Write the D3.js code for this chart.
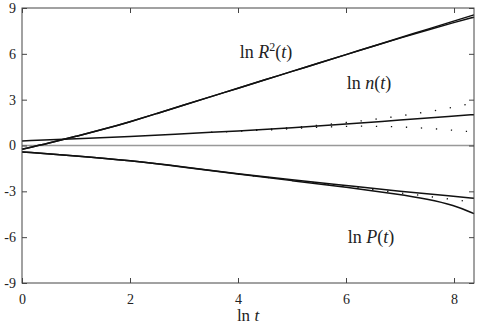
<!DOCTYPE html>
<html>
<head>
<meta charset="utf-8">
<script src="https://cdn.jsdelivr.net/npm/d3@7"></script>
<style>
  body { margin: 0; background: #fff; }
</style>
</head>
<body>
<script>
// values, [ln t, value]
var xTicks = [0, 2, 4, 6, 8];
var yTicks = [-9, -6, -3, 0, 3, 6, 9];

var lnR2a = [[0,-0.25],[0.5,0.15],[1,0.6],[1.5,1.05],[2,1.55],[2.5,2.1],[3,2.65],[3.5,3.2],[4,3.75],[4.5,4.3],[5,4.85],[5.5,5.4],[6,5.95],[6.5,6.5],[7,7.05],[7.5,7.6],[8,8.15],[8.37,8.55]];
var lnR2b = [[0,-0.25],[0.5,0.15],[1,0.6],[1.5,1.05],[2,1.55],[2.5,2.1],[3,2.65],[3.5,3.2],[4,3.75],[4.5,4.3],[5,4.85],[5.5,5.4],[6,5.95],[6.5,6.5],[7,7.03],[7.5,7.55],[8,8.05],[8.37,8.4]];

var lnN = [[0,0.3],[1,0.44],[2,0.57],[3,0.77],[4,0.95],[5,1.15],[6,1.4],[7,1.67],[8,1.93],[8.37,2.02]];
var lnNup = [[3.5,0.86],[4,0.95],[4.5,1.05],[5,1.17],[5.5,1.33],[6,1.5],[6.5,1.7],[7,1.93],[7.5,2.2],[8,2.5],[8.37,2.8]];
var lnNlo = [[3.5,0.86],[4,0.95],[4.5,1.0],[5,1.1],[5.5,1.2],[6,1.26],[6.5,1.27],[7,1.22],[7.5,1.13],[8,1.0],[8.37,0.88]];

var lnPa = [[0,-0.42],[1,-0.68],[2,-0.98],[3,-1.4],[4,-1.86],[5,-2.25],[6,-2.62],[7,-3.0],[8,-3.32],[8.37,-3.46]];
var lnPb = [[0,-0.42],[1,-0.68],[2,-0.98],[3,-1.41],[4,-1.88],[5,-2.3],[6,-2.72],[7,-3.2],[7.5,-3.5],[8,-3.9],[8.37,-4.46]];
var lnPdot = [[4,-1.87],[5,-2.27],[6,-2.66],[7,-3.1],[7.5,-3.32],[8,-3.55],[8.37,-3.7]];

var width = 484, height = 324;
var margin = { top: 8, right: 10, bottom: 41, left: 22 };
var serif = "'Liberation Serif', 'DejaVu Serif', 'Times New Roman', serif";

var svg = d3.select("body").append("svg")
    .attr("width", width).attr("height", height);

var x = d3.scaleLinear().domain([0, 8.37]).range([margin.left, width - margin.right]);
var y = d3.scaleLinear().domain([-9, 9]).range([height - margin.bottom, margin.top]);

// zero line
svg.append("line")
    .attr("x1", x(0)).attr("x2", x(8.37))
    .attr("y1", y(0)).attr("y2", y(0))
    .attr("stroke", "#999").attr("stroke-width", 1.5);

var line = d3.line()
    .x(d => x(d[0]))
    .y(d => y(d[1]))
    .curve(d3.curveBasis);

[lnR2a, lnR2b, lnN, lnPa, lnPb].forEach(function(s) {
    svg.append("path").datum(s)
        .attr("d", line)
        .attr("fill", "none").attr("stroke", "#111").attr("stroke-width", 1.5);
});

[lnNup, lnNlo, lnPdot].forEach(function(s) {
    svg.append("path").datum(s)
        .attr("d", line)
        .attr("fill", "none").attr("stroke", "#111").attr("stroke-width", 1.3)
        .attr("stroke-dasharray", "1.3,13.7");
});

// axes, ticks pointing inwards on all four sides
function styleAxis(g) {
    g.attr("font-family", serif).attr("font-size", 14);
    g.select(".domain").remove();
    g.selectAll(".tick line").attr("stroke", "#444");
    g.selectAll("text").attr("fill", "#222").style("font-family", serif);
}

svg.append("g")
    .attr("transform", "translate(0," + y(-9) + ")")
    .call(d3.axisBottom(x).tickValues(xTicks).tickSizeInner(-5).tickSizeOuter(0).tickPadding(11).tickFormat(d => String(d)))
    .call(styleAxis);

svg.append("g")
    .attr("transform", "translate(0," + y(9) + ")")
    .call(d3.axisTop(x).tickValues(xTicks).tickSizeInner(-5).tickSizeOuter(0).tickFormat(""))
    .call(styleAxis);

svg.append("g")
    .attr("transform", "translate(" + x(0) + ",0)")
    .call(d3.axisLeft(y).tickValues(yTicks).tickSizeInner(-5).tickSizeOuter(0).tickPadding(6).tickFormat(d => String(d)))
    .call(styleAxis);

svg.append("g")
    .attr("transform", "translate(" + x(8.37) + ",0)")
    .call(d3.axisRight(y).tickValues(yTicks).tickSizeInner(-5).tickSizeOuter(0).tickFormat(""))
    .call(styleAxis);

svg.append("rect")
    .attr("x", x(0)).attr("y", y(9))
    .attr("width", x(8.37) - x(0)).attr("height", y(-9) - y(9))
    .attr("fill", "none").attr("stroke", "#444").attr("stroke-width", 1);

// curve labels
function mathLabel(cx, by, size, parts) {
    var t = svg.append("text").attr("x", cx).attr("y", by)
        .attr("text-anchor", "middle")
        .style("font-family", serif).style("font-size", size + "px").attr("fill", "#222");
    parts.forEach(function(p) {
        var s = t.append("tspan").text(p.t);
        if (p.i) s.style("font-style", "italic");
        if (p.sup) s.attr("baseline-shift", "super").style("font-size", Math.round(size * 0.65) + "px");
    });
}

mathLabel(266, 58, 18, [{t: "ln "}, {t: "R", i: true}, {t: "2", sup: true}, {t: "("}, {t: "t", i: true}, {t: ")"}]);
mathLabel(369, 89, 18, [{t: "ln "}, {t: "n", i: true}, {t: "("}, {t: "t", i: true}, {t: ")"}]);
mathLabel(371, 243, 18, [{t: "ln "}, {t: "P", i: true}, {t: "("}, {t: "t", i: true}, {t: ")"}]);
mathLabel(248, 321, 17, [{t: "ln "}, {t: "t", i: true}]);
</script>
</body>
</html>
